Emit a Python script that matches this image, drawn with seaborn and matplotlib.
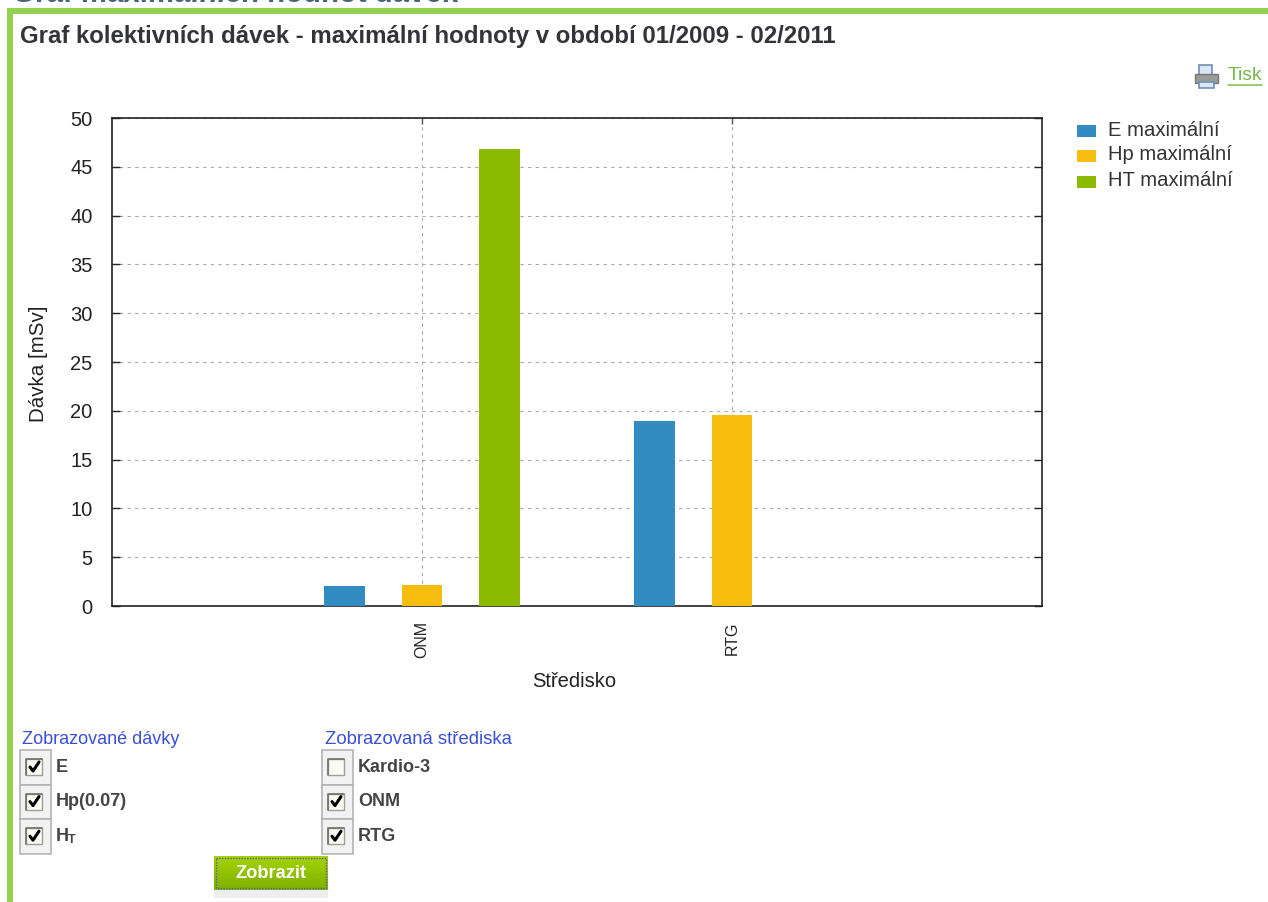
import numpy as np
import matplotlib
matplotlib.use("Agg")
import matplotlib.pyplot as plt
from matplotlib.patches import Rectangle
import pandas as pd
import seaborn as sns

centres = ["ONM", "ONM", "ONM", "RTG", "RTG", "RTG"]
series = ["E maximální", "Hp maximální", "HT maximální"] * 2
doses = [2.1, 2.2, 46.8, 19.0, 19.6, np.nan]
colors = ["#328cc1", "#f6bd0f", "#8cba00"]
yticks = list(range(0, 55, 5))

dose_labels = ["E", "Hp(0.07)", "H"]
dose_checked = [True, True, True]
centre_labels = ["Kardio-3", "ONM", "RTG"]
centre_checked = [False, True, True]

data = pd.DataFrame({"centre": centres, "series": series, "dose": doses})

W, H = 1268, 902
sns.set_theme(style="white")
plt.rcParams["font.family"] = ["Liberation Sans", "DejaVu Sans"]

fig = plt.figure(figsize=(W / 100, H / 100), dpi=100)

# page furniture, in pixel coordinates
page = fig.add_axes([0, 0, 1, 1], zorder=0)
page.set_xlim(0, W)
page.set_ylim(H, 0)
page.axis("off")


def box(x, y, w, h, **kw):
    page.add_patch(Rectangle((x, y), w, h, **kw))


def checkbox(x, y, checked):
    box(x, y, 31, 34.6, fc="#f2f2f2", ec="#b4b4b4", lw=1.2)
    box(x + 6, y + 9, 16, 16, fc="#fbfbf6", ec="#a09f95", lw=1)
    page.plot([x + 6, x + 6, x + 22], [y + 25, y + 9, y + 9], color="#77776e", lw=1.3)
    if checked:
        page.plot([x + 10, x + 13, x + 19], [y + 17, y + 21, y + 12], color="black", lw=2.2)


page.text(12, 2, "Graf maximálních hodnot dávek", fontsize=21.2, fontweight="bold",
          color="#4a6178", va="baseline")
box(7, 8, 6, H, fc="#92d250", ec="none")
box(7, 8, W, 6, fc="#92d250", ec="none")
page.text(20, 36, "Graf kolektivních dávek - maximální hodnoty v období 01/2009 - 02/2011",
          fontsize=17.3, fontweight="bold", color="#33333a", va="center")

# print icon and link
box(1199, 65, 13, 11, fc="#dbe6f5", ec="#6f8fb5", lw=1.2)
box(1195, 74, 23, 9, fc="#9a9a9a", ec="#777777", lw=1)
box(1199, 82, 15, 6, fc="#dbe6f5", ec="#6f8fb5", lw=1.2)
page.text(1228, 76, "Tisk", fontsize=13.9, color="#76b84a", va="center")
page.plot([1228, 1262], [85, 85], color="#7ac143", lw=1.1)

# selection form
page.text(22, 739, "Zobrazované dávky", fontsize=13, color="#3a4fd8", va="center")
page.text(325, 739, "Zobrazovaná střediska", fontsize=13.3, color="#3a4fd8", va="center")
for i, (label, checked) in enumerate(zip(dose_labels, dose_checked)):
    checkbox(20, 750 + i * 34.6, checked)
    page.text(56, 767 + i * 34.6, label, fontsize=13, fontweight="bold", color="#444444", va="center")
page.text(68, 840, "T", fontsize=9, fontweight="bold", color="#444444", va="center")
for i, (label, checked) in enumerate(zip(centre_labels, centre_checked)):
    checkbox(322, 750 + i * 34.6, checked)
    page.text(358, 767 + i * 34.6, label, fontsize=13, fontweight="bold", color="#444444", va="center")

box(214, 890, 114, 8, fc="#eeeeee", ec="none")
gradient = np.linspace(0, 1, 32).reshape(-1, 1)
green = matplotlib.colors.LinearSegmentedColormap.from_list("btn", ["#a4d400", "#7fb000"])
page.imshow(gradient, cmap=green, extent=(214, 328, 890, 856), aspect="auto", zorder=1)
page.set_xlim(0, W)
page.set_ylim(H, 0)
box(216, 858, 110, 30, fc="none", ec="#5a5ac0", lw=1, ls=(0, (1, 1)), zorder=2)
page.text(271, 873, "Zobrazit", fontsize=13.2, fontweight="bold", color="white", ha="center", va="center", zorder=3)

# chart
ax = fig.add_axes([112 / W, 1 - 606 / H, 930 / W, 488 / H], zorder=1)
ax.patch.set_alpha(0)
sns.barplot(
    data=data, x="centre", y="dose", hue="series", hue_order=series[:3],
    palette=colors, width=0.75, gap=0.48, saturation=1, legend=False, ax=ax, zorder=3, linewidth=0
)
ax.set_xlim(-1, 2)
ax.set_ylim(0, 50)
ax.set_yticks(yticks)
ax.grid(True, axis="both", color="#aaaaaa", ls=(0, (3.0, 3.8)), lw=0.8, zorder=0)
ax.set_axisbelow(True)
for spine in ax.spines.values():
    spine.set_visible(True)
    spine.set_color("#222222")
    spine.set_linewidth(1.2)
ax.tick_params(axis="y", which="major", left=True, right=True, direction="in", length=6, width=1,
               color="#222222", labelsize=14.5, labelcolor="#222222", pad=14)
ax.tick_params(axis="x", which="major", bottom=True, top=True, direction="in", length=4, width=1,
               color="#555555", labelsize=11.5, labelcolor="#222222", pad=11, labelrotation=90)
for tick in ax.get_yticklabels():
    tick.set_verticalalignment("center_baseline")
ax.set_xlabel("Středisko", fontsize=14.5, color="#222222", va="center")
ax.xaxis.set_label_coords(0.497, -0.154)
ax.set_ylabel("Dávka [mSv]", fontsize=14.8, color="#222222", va="center")
ax.yaxis.set_label_coords(-0.079, 0.496)

# legend
for label, color, sy, ty in zip(series[:3], colors, [125, 150, 176], [130, 155, 181]):
    box(1077, sy, 19, 12, fc=color, ec="none")
    page.text(1108, ty, label, fontsize=14.6, color="#333333", va="center")

fig.savefig("out.png", dpi=100)
